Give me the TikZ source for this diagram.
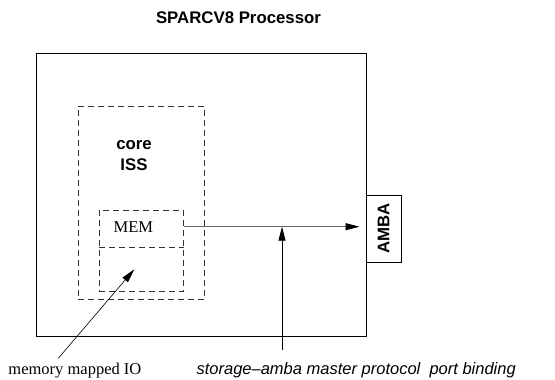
\documentclass[tikz,border=0pt]{standalone}
\usepackage{fontspec}
\setmainfont{Liberation Serif}
\setsansfont{Liberation Sans}
\usetikzlibrary{arrows.meta,positioning,calc}

\begin{document}
\begin{tikzpicture}[x=1pt, y=-1pt,
  font=\fontsize{16.5}{21}\selectfont,
  b/.style={font=\fontsize{16.8}{21}\selectfont\sffamily\bfseries},
  box/.style={draw, line width=1pt, inner sep=0pt},
  dbox/.style={draw=black!80, dash pattern=on 6pt off 4pt, line width=0.9pt, inner sep=0pt},
  d/.style={-{Triangle[length=14pt,width=7pt,color=black]}, line width=0.9pt}
]
\useasboundingbox (0,0) rectangle (555,380);
\node[b] (title) at (238.5,18) {SPARCV8 Processor};
\node[box, minimum width=330pt, minimum height=282.7pt] (proc) at (201,194.7) {};
\node[dbox, minimum width=126.7pt, minimum height=193pt] (core) at (141.3,202.5) {};
\node[b, align=center] (iss) at (134,156) {core\\ISS};
\node[dbox, minimum width=84pt, minimum height=81.7pt] (mem) at (141.3,250.8) {};
\draw[dbox] ([yshift=3.5pt]mem.west) -- ([yshift=3.5pt]mem.east);
\node (memlbl) at (133.3,226.7) {MEM};
\node[box, b, rotate=90, minimum width=67.3pt, minimum height=35pt] (amba) at (383.5,228.7) {AMBA};
\node[anchor=base west, inner sep=0pt] (iolbl) at (8.3,374) {memory mapped IO};
\node[anchor=base east, inner sep=0pt, font=\fontsize{16.5}{21}\selectfont\sffamily\itshape]
  (bindlbl) at (516,374) {storage--amba master protocol\ \ port binding};
\coordinate (bindfoot) at (282,350);
\coordinate (iofoot) at (58.3,358.3);
% bus to the amba port
\draw[d, draw=black!60, shorten >=7pt] (mem.east |- memlbl) -- (proc.east |- memlbl);
\draw[d] (bindfoot) -- (bindfoot |- memlbl);
\draw[d, line width=0.6pt] (iofoot) -- ([shift={(-7,18.5)}]mem.center);
\end{tikzpicture}
\end{document}
